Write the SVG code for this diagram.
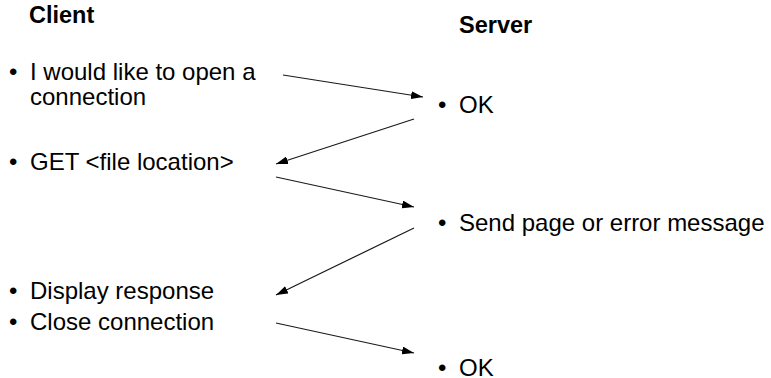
<svg xmlns="http://www.w3.org/2000/svg" width="771" height="378" viewBox="0 0 771 378">
  <defs>
    <style>
      .h { font-family: "Liberation Sans", Arial, sans-serif; font-weight: bold; font-size: 23.5px; fill: #000; }
      .t { font-family: "Liberation Sans", Arial, sans-serif; font-size: 24px; fill: #000; }
      .c { stroke: #1a1a1a; stroke-width: 1.2; fill: none; marker-end: url(#ah); }
    </style>
    <marker id="ah" viewBox="0 0 12 8" refX="12" refY="4" markerWidth="12" markerHeight="8" markerUnits="userSpaceOnUse" orient="auto">
      <path d="M0,0 L12,4 L0,8 Z" fill="#000"/>
    </marker>
  </defs>
  <rect width="771" height="378" fill="#fff"/>
  <g id="client-header"><text class="h" x="29" y="23">Client</text></g>
  <g id="server-header"><text class="h" x="459" y="33">Server</text></g>

  <g id="c1">
    <text class="t" x="9" y="80">•</text>
    <text class="t" x="30" y="80">I would like to open a</text>
    <text class="t" x="30" y="105">connection</text>
  </g>
  <g id="s1">
    <text class="t" x="438" y="113">•</text>
    <text class="t" x="459" y="113">OK</text>
  </g>
  <g id="c2">
    <text class="t" x="9" y="170">•</text>
    <text class="t" x="30" y="170">GET &lt;file location&gt;</text>
  </g>
  <g id="s2">
    <text class="t" x="438" y="231">•</text>
    <text class="t" x="459" y="231">Send page or error message</text>
  </g>
  <g id="c3">
    <text class="t" x="9" y="299">•</text>
    <text class="t" x="30" y="299">Display response</text>
  </g>
  <g id="c4">
    <text class="t" x="9" y="330">•</text>
    <text class="t" x="30" y="330">Close connection</text>
  </g>
  <g id="s3">
    <text class="t" x="438" y="376">•</text>
    <text class="t" x="459" y="376">OK</text>
  </g>

  <g id="connectors">
    <line class="c" x1="283" y1="75" x2="423" y2="97"/>
    <line class="c" x1="414" y1="119" x2="276" y2="164"/>
    <line class="c" x1="276" y1="177" x2="414" y2="207"/>
    <line class="c" x1="414" y1="228" x2="276" y2="295"/>
    <line class="c" x1="276" y1="323" x2="414" y2="353"/>
  </g>
</svg>
